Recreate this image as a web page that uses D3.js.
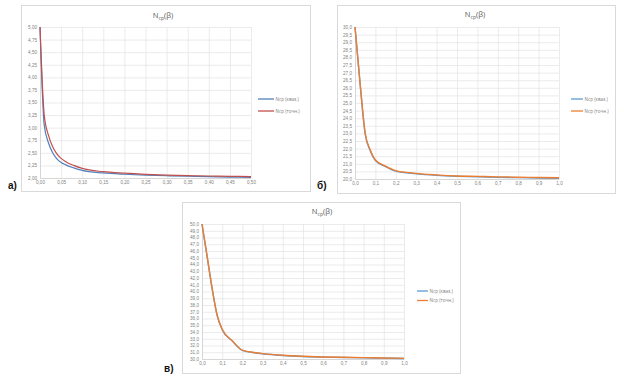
<!DOCTYPE html>
<html>
<head>
<meta charset="utf-8">
<script src="https://cdn.jsdelivr.net/npm/d3@7"></script>
<style>
  html, body { margin: 0; padding: 0; background: #fff; }
  svg { display: block; font-family: "Open Sans", "Liberation Sans", sans-serif; }
</style>
</head>
<body>
<svg id="chart" width="624" height="383"></svg>
<script>
// ── Data ───────────────────────────────────────────────────
// panel а)
var betaA = [0, 0.01, 0.02, 0.03, 0.04, 0.05, 0.06, 0.08, 0.10, 0.15, 0.20, 0.25, 0.30, 0.35, 0.40, 0.45, 0.50];
var quasiA = [5.0, 3.05, 2.70, 2.50, 2.38, 2.31, 2.265, 2.20, 2.15, 2.10, 2.075, 2.058, 2.045, 2.035, 2.027, 2.019, 2.012];
var exactA = [5.0, 3.25, 2.85, 2.62, 2.48, 2.39, 2.33, 2.25, 2.19, 2.125, 2.095, 2.073, 2.058, 2.048, 2.040, 2.033, 2.028];
var yTicksA = [2.00, 2.25, 2.50, 2.75, 3.00, 3.25, 3.50, 3.75, 4.00, 4.25, 4.50, 4.75, 5.00];
var xTicksA = [0, 0.05, 0.10, 0.15, 0.20, 0.25, 0.30, 0.35, 0.40, 0.45, 0.50];

// panel б)
var betaB = [0, 0.025, 0.05, 0.075, 0.10, 0.15, 0.20, 0.30, 0.40, 0.50, 0.60, 0.70, 0.80, 0.90, 1.00];
var quasiB = [30.0, 26.25, 22.95, 21.85, 21.22, 20.82, 20.52, 20.34, 20.24, 20.18, 20.14, 20.11, 20.09, 20.07, 20.05];
var exactB = [30.0, 26.3, 23.0, 21.9, 21.25, 20.85, 20.55, 20.37, 20.27, 20.2, 20.17, 20.14, 20.12, 20.1, 20.08];
var yTicksB = d3.range(0, 21).map(function (i) { return 20 + i * 0.5; });
var xTicksB = [0, 0.1, 0.2, 0.3, 0.4, 0.5, 0.6, 0.7, 0.8, 0.9, 1.0];

// panel в)
var betaC = [0, 0.025, 0.05, 0.075, 0.10, 0.15, 0.20, 0.25, 0.30, 0.40, 0.50, 0.60, 0.70, 0.80, 0.90, 1.00];
var quasiC = [50.0, 45.25, 40.45, 36.45, 34.35, 32.65, 31.27, 30.97, 30.77, 30.52, 30.37, 30.28, 30.23, 30.18, 30.13, 30.08];
var exactC = [50.0, 45.3, 40.5, 36.5, 34.4, 32.7, 31.3, 31.0, 30.8, 30.55, 30.4, 30.3, 30.25, 30.2, 30.15, 30.1];
var yTicksC = d3.range(0, 21).map(function (i) { return 30 + i; });
var xTicksC = [0, 0.1, 0.2, 0.3, 0.4, 0.5, 0.6, 0.7, 0.8, 0.9, 1.0];

var seriesNames = ["Nср (кваз.)", "Nср (точн.)"];

// ── Drawing ────────────────────────────────────────────────
var svg = d3.select("#chart");
var comma = function (fmt) {
  var f = d3.format(fmt);
  return function (v) { return f(v).replace(".", ","); };
};

function drawPanel(p) {
  var g = svg.append("g");

  // frame
  g.append("rect")
    .attr("x", p.frame[0] + 0.5).attr("y", p.frame[1] + 0.5)
    .attr("width", p.frame[2] - p.frame[0]).attr("height", p.frame[3] - p.frame[1])
    .attr("fill", "#fff").attr("stroke", "#d9d9d9");

  var x = d3.scaleLinear().domain(p.xDomain).range([p.plot[0], p.plot[2]]);
  var y = d3.scaleLinear().domain(p.yDomain).range([p.plot[3], p.plot[1]]);

  // grid
  g.append("g")
    .attr("transform", "translate(0," + p.plot[3] + ")")
    .call(d3.axisBottom(x).tickValues(p.xTicks).tickSize(p.plot[1] - p.plot[3]).tickFormat(""))
    .call(function (a) {
      a.select(".domain").remove();
      a.selectAll("line").attr("stroke", "#e3e3e3").attr("stroke-width", 0.7);
    });
  g.append("g")
    .attr("transform", "translate(" + p.plot[0] + ",0)")
    .call(d3.axisLeft(y).tickValues(p.yTicks).tickSize(p.plot[0] - p.plot[2]).tickFormat(""))
    .call(function (a) {
      a.select(".domain").remove();
      a.selectAll("line").attr("stroke", "#e3e3e3").attr("stroke-width", 0.7);
    });

  // axes labels
  var xa = g.append("g")
    .attr("transform", "translate(0," + p.plot[3] + ")")
    .call(d3.axisBottom(x).tickValues(p.xTicks).tickSize(0).tickPadding(3).tickFormat(comma(p.xFmt)));
  xa.select(".domain").attr("stroke", "#d0d0d0").attr("stroke-width", 0.8);
  xa.selectAll("text").attr("fill", "#7f7f7f").attr("font-size", 4.6);

  var ya = g.append("g")
    .attr("transform", "translate(" + p.plot[0] + ",0)")
    .call(d3.axisLeft(y).tickValues(p.yTicks).tickSize(0).tickPadding(3).tickFormat(comma(p.yFmt)));
  ya.select(".domain").attr("stroke", "#d0d0d0").attr("stroke-width", 0.8);
  ya.selectAll("text").attr("fill", "#7f7f7f").attr("font-size", 4.6);

  // lines
  var line = d3.line()
    .x(function (d) { return x(d[0]); })
    .y(function (d) { return y(d[1]); })
    .curve(d3.curveMonotoneX);
  [p.quasi, p.exact].forEach(function (vals, i) {
    g.append("path")
      .datum(p.beta.map(function (b, k) { return [b, vals[k]]; }))
      .attr("fill", "none")
      .attr("stroke", p.colors[i])
      .attr("stroke-width", p.lineWidth)
      .attr("d", line);
  });

  // title N_ср(β)
  var t = g.append("text")
    .attr("x", p.title[0]).attr("y", p.title[1])
    .attr("text-anchor", "middle")
    .attr("fill", "#595959").attr("font-size", 7.5);
  t.append("tspan").text("N");
  t.append("tspan").attr("font-size", 5).attr("dy", 1.8).text("ср");
  t.append("tspan").attr("dy", -1.8).text("(β)");

  // legend
  seriesNames.forEach(function (name, i) {
    var ly = p.legend[1] + i * p.legend[2];
    g.append("line")
      .attr("x1", p.legend[0]).attr("x2", p.legend[0] + p.legend[3])
      .attr("y1", ly).attr("y2", ly)
      .attr("stroke", p.colors[i]).attr("stroke-width", 1.3);
    g.append("text")
      .attr("x", p.legend[0] + p.legend[3] + 1.5).attr("y", ly + 1.6)
      .attr("fill", "#7f7f7f").attr("font-size", 4.6)
      .text(name);
  });

  // panel letter
  svg.append("text")
    .attr("x", p.letter[0]).attr("y", p.letter[1])
    .attr("fill", "#111").attr("font-size", 10).attr("font-weight", "bold")
    .attr("font-family", "Liberation Sans, Arial, sans-serif")
    .text(p.letter[2]);
}

drawPanel({
  frame: [21, 5, 310, 191], plot: [40, 27, 251, 178],
  xDomain: [0, 0.5], yDomain: [2, 5],
  xTicks: xTicksA, yTicks: yTicksA, xFmt: ".2f", yFmt: ".2f",
  beta: betaA, quasi: quasiA, exact: exactA,
  colors: ["#4f81bd", "#c0504d"], lineWidth: 1.2,
  title: [163, 18], legend: [258, 99, 12, 16], letter: [8, 189, "а)"]
});

drawPanel({
  frame: [337, 5, 615, 193], plot: [355, 27, 559, 179],
  xDomain: [0, 1], yDomain: [20, 30],
  xTicks: xTicksB, yTicks: yTicksB, xFmt: ".1f", yFmt: ".1f",
  beta: betaB, quasi: quasiB, exact: exactB,
  colors: ["#5b9bd5", "#ed7d31"], lineWidth: 1.4,
  title: [475, 17], legend: [571, 99, 12, 12], letter: [317, 189, "б)"]
});

drawPanel({
  frame: [182, 202, 460, 373], plot: [202, 224, 404, 359],
  xDomain: [0, 1], yDomain: [30, 50],
  xTicks: xTicksC, yTicks: yTicksC, xFmt: ".1f", yFmt: ".1f",
  beta: betaC, quasi: quasiC, exact: exactC,
  colors: ["#5b9bd5", "#ed7d31"], lineWidth: 1.4,
  title: [322, 214], legend: [417, 291, 9.5, 11], letter: [164, 372, "в)"]
});
</script>
</body>
</html>
